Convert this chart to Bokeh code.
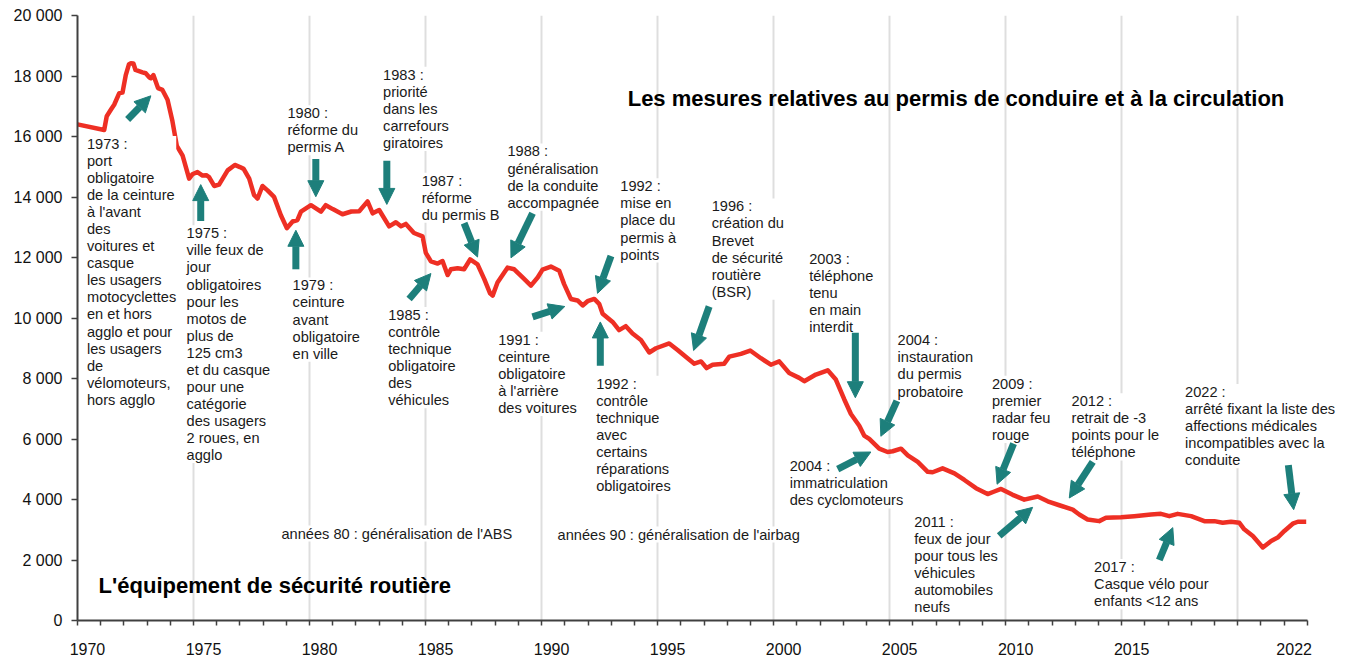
from bokeh.plotting import figure
from bokeh.models import ColumnDataSource, FixedTicker, Arrow, NormalHead, Range1d, LabelSet
from bokeh.core.properties import value
from bokeh.embed import file_html
from bokeh.resources import INLINE

# ---------------- data ----------------
years = [1970.0, 1971.15, 1971.26, 1971.45, 1971.58, 1971.8, 1971.94, 1972.08, 1972.22, 1972.3,
         1972.41, 1972.5, 1972.59, 1972.8, 1972.94, 1973.1, 1973.16, 1973.27, 1973.47, 1973.66,
         1973.88, 1974.09, 1974.28, 1974.53, 1974.81, 1974.95, 1975.17, 1975.39, 1975.55, 1975.67,
         1975.89, 1976.1, 1976.47, 1976.78, 1977.0, 1977.16, 1977.4, 1977.61, 1977.76, 1977.97,
         1978.19, 1978.47, 1978.76, 1979.02, 1979.27, 1979.48, 1979.63, 1980.06, 1980.49, 1980.7,
         1981.0, 1981.42, 1981.8, 1982.14, 1982.5, 1982.72, 1983.0, 1983.43, 1983.72, 1983.94,
         1984.15, 1984.5, 1984.87, 1985.01, 1985.23, 1985.52, 1985.73, 1985.95, 1986.09, 1986.38,
         1986.66, 1986.92, 1987.24, 1987.53, 1987.78, 1987.89, 1988.1, 1988.53, 1988.82, 1989.18,
         1989.54, 1989.83, 1990.04, 1990.4, 1990.76, 1990.97, 1991.26, 1991.55, 1991.77, 1991.98,
         1992.27, 1992.48, 1992.63, 1993.06, 1993.34, 1993.63, 1993.92, 1994.28, 1994.64, 1994.93,
         1995.5, 1995.86, 1996.29, 1996.58, 1996.87, 1997.11, 1997.37, 1997.87, 1998.09, 1998.59,
         1998.99, 1999.45, 1999.88, 2000.24, 2000.67, 2001.1, 2001.32, 2001.82, 2002.33, 2002.68,
         2003.04, 2003.33, 2003.69, 2003.9, 2004.12, 2004.55, 2004.91, 2005.13, 2005.49, 2005.78,
         2006.21, 2006.64, 2006.85, 2007.28, 2007.79, 2008.22, 2008.72, 2009.22, 2009.51, 2009.8,
         2010.3, 2010.8, 2011.38, 2011.81, 2012.31, 2012.89, 2013.17, 2013.53, 2014.03, 2014.32,
         2014.97, 2015.54, 2016.26, 2016.69, 2017.05, 2017.41, 2017.99, 2018.56, 2018.99, 2019.35,
         2019.71, 2020.07, 2020.28, 2020.65, 2021.08, 2021.44, 2021.72, 2022.01, 2022.37, 2022.59,
         2022.95]
deaths = [16400, 16215, 16670, 16900, 17050, 17435, 17455, 18030, 18390, 18420,
          18415, 18200, 18175, 18120, 18090, 17950, 17925, 18030, 17600, 17540,
          17215, 16510, 15690, 15365, 14605, 14750, 14825, 14710, 14720, 14660,
          14365, 14410, 14880, 15060, 14990, 14930, 14605, 14060, 13950, 14365,
          14220, 14005, 13405, 12970, 13190, 13240, 13515, 13730, 13515, 13730,
          13600, 13430, 13520, 13530, 13855, 13460, 13570, 13030, 13165, 13030,
          13110, 12810, 12700, 12155, 11870, 11800, 11885, 11420, 11610, 11645,
          11610, 11935, 11775, 11285, 10815, 10740, 11175, 11665, 11610, 11340,
          11070, 11340, 11600, 11700, 11560, 11120, 10630, 10580, 10415, 10555,
          10630, 10470, 10140, 9870, 9600, 9730, 9490, 9275, 8860, 9000,
          9160, 8945, 8670, 8490, 8565, 8345, 8455, 8490, 8725, 8815,
          8925, 8670, 8455, 8565, 8180, 8020, 7910, 8130, 8270, 7965,
          7315, 6825, 6440, 6115, 6005, 5680, 5570, 5595, 5680, 5460,
          5245, 4915, 4900, 5030, 4865, 4645, 4375, 4180, 4265, 4350,
          4155, 3995, 4100, 3940, 3810, 3665, 3505, 3340, 3285, 3395,
          3415, 3450, 3505, 3525, 3450, 3525, 3450, 3285, 3285, 3230,
          3265, 3230, 3015, 2795, 2415, 2630, 2740, 2960, 3200, 3265,
          3265]

x_tick_labels = ["1970", "1975", "1980", "1985", "1990", "1995", "2000", "2005", "2010", "2015", "2022"]
y_tick_values = [0, 2000, 4000, 6000, 8000, 10000, 12000, 14000, 16000, 18000, 20000]
y_tick_labels = ["0", "2 000", "4 000", "6 000", "8 000", "10 000", "12 000", "14 000", "16 000", "18 000", "20 000"]
grid_years = [1975, 1980, 1985, 1990, 1995, 2000, 2005, 2010, 2015, 2020]

note_text = [
    "1973 :\nport\nobligatoire\nde la ceinture\nà l'avant\ndes\nvoitures et\ncasque\nles usagers\nmotocyclettes\nen et hors\nagglo et pour\nles usagers\nde\nvélomoteurs,\nhors agglo",
    "1975 :\nville feux de\njour\nobligatoires\npour les\nmotos de\nplus de\n125 cm3\net du casque\npour une\ncatégorie\ndes usagers\n2 roues, en\nagglo",
    "1980 :\nréforme du\npermis A",
    "1983 :\npriorité\ndans les\ncarrefours\ngiratoires",
    "1979 :\nceinture\navant\nobligatoire\nen ville",
    "1985 :\ncontrôle\ntechnique\nobligatoire\ndes\nvéhicules",
    "1987 :\nréforme\ndu permis B",
    "1988 :\ngénéralisation\nde la conduite\naccompagnée",
    "1992 :\nmise en\nplace du\npermis à\npoints",
    "1996 :\ncréation du\nBrevet\nde sécurité\nroutière\n(BSR)",
    "2003 :\ntéléphone\ntenu\nen main\ninterdit",
    "1991 :\nceinture\nobligatoire\nà l'arrière\ndes voitures",
    "1992 :\ncontrôle\ntechnique\navec\ncertains\nréparations\nobligatoires",
    "2004 :\nimmatriculation\ndes cyclomoteurs",
    "2004 :\ninstauration\ndu permis\nprobatoire",
    "2009 :\npremier\nradar feu\nrouge",
    "2012 :\nretrait de -3\npoints pour le\ntéléphone",
    "2022 :\narrêté fixant la liste des\naffections médicales\nincompatibles avec la\nconduite",
    "2011 :\nfeux de jour\npour tous les\nvéhicules\nautomobiles\nneufs",
    "2017 :\nCasque vélo pour\nenfants <12 ans",
    "années 80 : généralisation de l'ABS",
    "années 90 : généralisation de l'airbag",
]
note_x = [1970.41, 1974.70, 1979.05, 1983.17, 1979.27, 1983.39, 1984.83, 1988.53, 1993.39, 1997.33,
          2001.53, 1988.13, 1992.35, 2000.69, 2005.34, 2009.41, 2012.84, 2017.73, 2006.06, 2013.81,
          1978.79, 1990.69]
note_y = [16020, 13062, 17033, 18307, 11342, 10362, 14803, 15770, 14617, 13954,
          12224, 9546, 8087, 5360, 9526, 8090, 7512, 7819, 3532, 2029,
          3138, 3105]

section_text = ["Les mesures relatives au permis de conduire et à la circulation",
                "L'équipement de sécurité routière"]
section_x = [1993.71, 1970.91]
section_y = [17683, 1570]

arrow_x0 = [1972.16, 1975.31, 1979.41, 1980.27, 1983.33, 1984.29, 1986.66, 1989.61, 1989.61, 1992.99,
            1992.53, 1997.22, 2003.52, 2002.76, 2005.31, 2010.34, 2009.72, 2013.75, 2016.62, 2022.18]
arrow_y0 = [16560, 13210, 11610, 15260, 15200, 10630, 13135, 13460, 10035, 12050,
            8425, 10380, 9510, 5005, 7260, 5845, 2795, 5245, 2000, 5135]
arrow_x1 = [1973.16, 1975.31, 1979.41, 1980.27, 1983.33, 1985.23, 1987.24, 1988.68, 1991.0, 1992.41,
            1992.53, 1996.55, 2003.52, 2004.19, 2004.62, 2009.63, 2011.16, 2012.74, 2017.2, 2022.41]
arrow_y1 = [17345, 14410, 12900, 14010, 13755, 11470, 12015, 11990, 10380, 10815,
            9870, 8925, 7365, 5570, 6090, 4505, 3740, 4050, 3070, 3665]

# ---------------- figure ----------------
FONT = "Liberation Sans"
TEAL = "#1d7f7b"
RED = "#ee2f24"
AXIS = "#404040"

p = figure(width=1348, height=657, x_range=Range1d(1970, 2024.6), y_range=Range1d(0, 20000),
           output_backend="svg", toolbar_location=None,
           min_border_left=77, min_border_right=4, min_border_top=15, min_border_bottom=30)
p.outline_line_color = None
p.background_fill_color = "white"
p.border_fill_color = "white"

p.ygrid.grid_line_color = None
p.xgrid.ticker = FixedTicker(ticks=grid_years)
p.xgrid.grid_line_color = "#dedede"
p.xgrid.grid_line_width = 2

label_pos = [int(t) + 0.43 for t in x_tick_labels]
p.xaxis.ticker = FixedTicker(ticks=label_pos, minor_ticks=list(range(1970, 2024)))
p.xaxis.major_label_overrides = {pos: lab for pos, lab in zip(label_pos, x_tick_labels)}
p.xaxis.bounds = (1970, 2023)
p.xaxis.major_tick_in = 0
p.xaxis.major_tick_out = 0
p.xaxis.minor_tick_in = 0
p.xaxis.minor_tick_out = 5
p.xaxis.minor_tick_line_color = AXIS
p.xaxis.minor_tick_line_width = 1.5
p.xaxis.major_label_standoff = 17

p.yaxis.ticker = FixedTicker(ticks=y_tick_values)
p.yaxis.major_label_overrides = {v: lab for v, lab in zip(y_tick_values, y_tick_labels)}
p.yaxis.major_tick_in = 0
p.yaxis.major_tick_out = 6
p.yaxis.minor_tick_line_color = None
p.yaxis.major_label_standoff = 9

for ax in (p.xaxis, p.yaxis):
    ax.axis_line_color = AXIS
    ax.axis_line_width = 2
    ax.major_tick_line_color = AXIS
    ax.major_tick_line_width = 1.5
    ax.major_label_text_font = FONT
    ax.major_label_text_font_size = "16px"
    ax.major_label_text_color = "#111111"

notes = ColumnDataSource(dict(x=note_x, y=note_y, text=note_text))
p.add_layout(LabelSet(x="x", y="y", text="text", source=notes, text_font=value(FONT),
                      text_font_size="14.6px", text_color="#1a1a1a", text_baseline="top",
                      text_align="left", text_line_height=1.066, background_fill_color="white"))

sections = ColumnDataSource(dict(x=section_x, y=section_y, text=section_text))
p.text(x="x", y="y", text="text", source=sections, text_font=value(FONT), text_font_size="22px",
       text_font_style="bold", text_color="#000000", text_baseline="top", text_align="left")

p.line(years, deaths, line_color=RED, line_width=4.5, line_join="round")

arrows = ColumnDataSource(dict(x0=arrow_x0, y0=arrow_y0, x1=arrow_x1, y1=arrow_y1))
p.add_layout(Arrow(source=arrows, x_start="x0", y_start="y0", x_end="x1", y_end="y1",
                   line_color=TEAL, line_width=7,
                   end=NormalHead(size=16, fill_color=TEAL, line_color=TEAL, line_width=1)))

open("out.html", "w").write(file_html(p, INLINE))
